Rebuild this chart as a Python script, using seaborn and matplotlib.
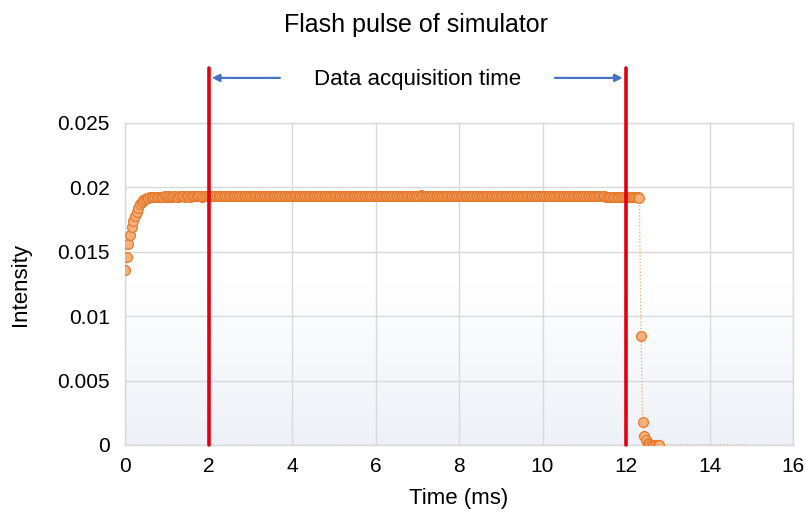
import numpy as np
import matplotlib
matplotlib.use("Agg")
import matplotlib.pyplot as plt
from matplotlib.colors import LinearSegmentedColormap
import seaborn as sns
import pandas as pd

# ---------------- data ----------------
sample_interval_ms = 0.04

rise_values = [
    0.01359, 0.01457, 0.01561, 0.01630, 0.01695, 0.01741, 0.01778, 0.01811,
    0.01842, 0.01869, 0.01889, 0.01902, 0.01910, 0.01916, 0.01920, 0.01923,
    0.01925, 0.01926, 0.01927, 0.01927, 0.01928,
]

plateau_values = [
    0.01928, 0.01929, 0.01928, 0.01930, 0.01929, 0.01931, 0.01929, 0.01928, 0.01930, 0.01931,
    0.01929, 0.01928, 0.01930, 0.01932, 0.01930, 0.01929, 0.01930, 0.01931, 0.01929, 0.01930,
    0.01930, 0.01931, 0.01932, 0.01930, 0.01931, 0.01929, 0.01931, 0.01932, 0.01931, 0.01930,
    0.01931, 0.01932, 0.01931, 0.01930, 0.01932, 0.01931, 0.01930, 0.01931, 0.01932, 0.01931,
    0.01931, 0.01930, 0.01932, 0.01931, 0.01933, 0.01931, 0.01930, 0.01931, 0.01932, 0.01931,
    0.01930, 0.01931, 0.01932, 0.01933, 0.01931, 0.01930, 0.01931, 0.01932, 0.01931, 0.01930,
    0.01931, 0.01932, 0.01930, 0.01931, 0.01932, 0.01931, 0.01933, 0.01932, 0.01931, 0.01930,
    0.01932, 0.01931, 0.01930, 0.01932, 0.01933, 0.01931, 0.01932, 0.01931, 0.01930, 0.01931,
    0.01932, 0.01931, 0.01933, 0.01932, 0.01931, 0.01932, 0.01930, 0.01931, 0.01932, 0.01933,
    0.01931, 0.01932, 0.01931, 0.01930, 0.01932, 0.01931, 0.01932, 0.01933, 0.01931, 0.01932,
    0.01931, 0.01932, 0.01933, 0.01931, 0.01930, 0.01932, 0.01931, 0.01932, 0.01933, 0.01932,
    0.01931, 0.01932, 0.01931, 0.01933, 0.01932, 0.01931, 0.01932, 0.01930, 0.01931, 0.01932,
    0.01933, 0.01932, 0.01931, 0.01932, 0.01933, 0.01931, 0.01932, 0.01931, 0.01932, 0.01933,
    0.01932, 0.01931, 0.01932, 0.01933, 0.01932, 0.01931, 0.01932, 0.01933, 0.01931, 0.01932,
    0.01933, 0.01932, 0.01934, 0.01932, 0.01931, 0.01933, 0.01932, 0.01931, 0.01932, 0.01933,
    0.01932, 0.01933, 0.01931, 0.01932, 0.01933, 0.01932, 0.01938, 0.01936, 0.01933, 0.01932,
    0.01931, 0.01932, 0.01933, 0.01932, 0.01931, 0.01933, 0.01932, 0.01931, 0.01932, 0.01933,
    0.01932, 0.01931, 0.01932, 0.01933, 0.01932, 0.01931, 0.01933, 0.01932, 0.01931, 0.01932,
    0.01933, 0.01932, 0.01931, 0.01932, 0.01933, 0.01931, 0.01932, 0.01933, 0.01932, 0.01931,
    0.01932, 0.01933, 0.01932, 0.01931, 0.01932, 0.01933, 0.01932, 0.01931, 0.01933, 0.01932,
    0.01931, 0.01932, 0.01933, 0.01932, 0.01931, 0.01932, 0.01933, 0.01932, 0.01934, 0.01932,
    0.01931, 0.01933, 0.01932, 0.01931, 0.01932, 0.01933, 0.01932, 0.01931, 0.01932, 0.01933,
    0.01932, 0.01931, 0.01933, 0.01932, 0.01934, 0.01933, 0.01932, 0.01933, 0.01935, 0.01933,
    0.01932, 0.01933, 0.01934, 0.01932, 0.01931, 0.01933, 0.01932, 0.01931, 0.01932, 0.01933,
    0.01932, 0.01934, 0.01933, 0.01935, 0.01933, 0.01932, 0.01933, 0.01932, 0.01931, 0.01932,
    0.01932, 0.01933, 0.01934, 0.01933, 0.01932, 0.01933, 0.01934, 0.01935, 0.01934, 0.01933,
    0.01934, 0.01933, 0.01932, 0.01931, 0.01931, 0.01930, 0.01930, 0.01929, 0.01929, 0.01928,
    0.01928, 0.01928, 0.01927, 0.01927, 0.01927, 0.01926, 0.01926, 0.01926, 0.01925, 0.01925,
    0.01925, 0.01924, 0.01924, 0.01924, 0.01923, 0.01923, 0.01922,
]

falloff_values = [
    0.01918, 0.00846, 0.00179, 0.00072, 0.00039, 0.00013, 0.00006,
    0.00003, 0.00001, 0.00000, 0.00000, 0.00000, 0.00000,
]

tail_time = [12.80, 14.90]
tail_values = [0.0, 0.0]

acquisition_window = [2, 12]
window_label = "Data acquisition time"

x_ticks = [0, 2, 4, 6, 8, 10, 12, 14, 16]
y_ticks = [0, 0.005, 0.01, 0.015, 0.02, 0.025]
y_tick_labels = ["0", "0.005", "0.01", "0.015", "0.02", "0.025"]

# ---------------- build frames ----------------
intensity = rise_values + plateau_values + falloff_values
time = np.round(np.arange(len(intensity)) * sample_interval_ms, 4)
df = pd.DataFrame({"time": time, "intensity": intensity})
line_df = pd.concat(
    [df, pd.DataFrame({"time": tail_time, "intensity": tail_values})],
    ignore_index=True,
)

# ---------------- style ----------------
sns.set_theme(style="white")
plt.rcParams["font.family"] = ["Liberation Sans", "DejaVu Sans"]
plt.rcParams["text.color"] = "black"
plt.rcParams["axes.labelcolor"] = "black"

W, H = 805, 514
fig = plt.figure(figsize=(W / 100, H / 100), dpi=100)
ax_left, ax_right, ax_top, ax_bottom = 125, 793, 123, 445
ax = fig.add_axes([ax_left / W, 1 - ax_bottom / H,
                   (ax_right - ax_left) / W, (ax_bottom - ax_top) / H])

# subtle vertical gradient plot background
grad = np.linspace(0, 1, 256).reshape(-1, 1)
cmap = LinearSegmentedColormap.from_list("bg", ["#ffffff", "#ffffff", "#eef1f7"])
ax.imshow(grad, extent=[0, 16, 0, 0.025], aspect="auto", cmap=cmap,
          origin="upper", zorder=0)

sns.lineplot(data=line_df, x="time", y="intensity", ax=ax, estimator=None,
             sort=False, color="#f2a56c", linewidth=0.9, linestyle=":", zorder=2)
sns.scatterplot(data=df, x="time", y="intensity", ax=ax, s=50,
                color="#f5b07c", edgecolor="#e67a2c", linewidth=0.9,
                zorder=3, legend=False)

ax.set_xlim(0, 16)
ax.set_ylim(0, 0.025)
ax.set_xticks(x_ticks)
ax.set_xticklabels([str(t) for t in x_ticks])
ax.set_yticks(y_ticks)
ax.set_yticklabels(y_tick_labels)
ax.tick_params(axis="both", length=0, labelsize=15, colors="black")
ax.tick_params(axis="x", pad=9)
ax.tick_params(axis="y", pad=11)
ax.grid(True, color="#d9d9d9", linewidth=1.0)
for s in ax.spines.values():
    s.set_color("#d9d9d9")
    s.set_linewidth(1.0)

ax.set_xlabel("Time (ms)", fontsize=16, labelpad=8, color="black")
ax.set_ylabel("Intensity", fontsize=16, labelpad=19, color="black")

# red acquisition-window lines extending above the plot area
top_frac = (ax_bottom - 68) / (ax_bottom - ax_top)
for xv in acquisition_window:
    ax.axvline(xv, ymin=0, ymax=top_frac, color="#e3000f", linewidth=2.6,
               clip_on=False, zorder=5)

arrow_y = 0.0285
ax.annotate("", xy=(2.08, arrow_y), xytext=(3.71, arrow_y),
            arrowprops=dict(arrowstyle="-|>", color="#4472c4", lw=1.6,
                            mutation_scale=11, shrinkA=0, shrinkB=0),
            annotation_clip=False)
ax.annotate("", xy=(11.92, arrow_y), xytext=(10.3, arrow_y),
            arrowprops=dict(arrowstyle="-|>", color="#4472c4", lw=1.6,
                            mutation_scale=11, shrinkA=0, shrinkB=0),
            annotation_clip=False)
ax.text(7.0, 0.02834, window_label, ha="center", va="center", fontsize=16,
        color="black", clip_on=False)

fig.text(416 / W, 1 - 25 / H, "Flash pulse of simulator", ha="center",
         va="center", fontsize=18, color="black")

fig.savefig("out.png", dpi=100)
